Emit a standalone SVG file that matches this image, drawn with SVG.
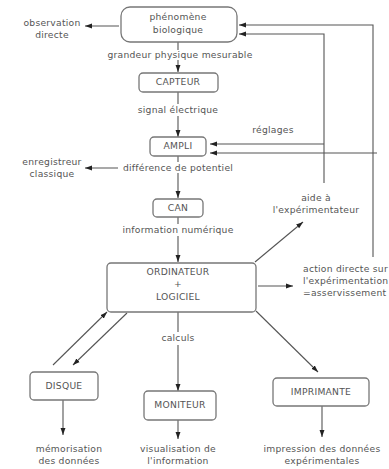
<svg xmlns="http://www.w3.org/2000/svg" width="389" height="469" viewBox="0 0 389 469">
<style>
text{font-family:"DejaVu Sans","Liberation Sans",sans-serif;font-size:9.2px;letter-spacing:0.25px;fill:#555;text-anchor:middle;dominant-baseline:middle}
.box{fill:#fff;stroke:#777;stroke-width:1.3}
.ln{stroke:#555;stroke-width:1.1;fill:none}
.ar{stroke:#555;stroke-width:1.1;fill:none;marker-end:url(#ah)}
.l{text-anchor:start}
</style>
<defs>
<marker id="ah" viewBox="0 0 10 10" refX="10" refY="5" markerWidth="7" markerHeight="7" markerUnits="userSpaceOnUse" orient="auto">
<path d="M0,1.5 L10,5 L0,8.5 Z" fill="#222"/>
</marker>
</defs>
<rect width="389" height="469" fill="#fff"/>
<g id="connectors">
<path class="ln" d="M178,42 V50"/>
<path class="ar" d="M178,60 V72"/>
<path class="ln" d="M178,92 V104"/>
<path class="ar" d="M178,116 V137"/>
<path class="ln" d="M178,156 V162"/>
<path class="ar" d="M178,173 V198"/>
<path class="ln" d="M178,217 V224"/>
<path class="ar" d="M178,236 V262"/>
<path class="ar" d="M119,26 H85"/>
<path class="ar" d="M118,168 H85"/>
<path class="ar" d="M373,257 V25 H239"/>
<path class="ar" d="M324,183 V34 H239"/>
<path class="ar" d="M324,144 H210"/>
<path class="ar" d="M377,153 H210"/>
<path class="ar" d="M255,262 L303,222"/>
<path class="ar" d="M258,286 H293"/>
<path class="ln" d="M178,312 V332"/>
<path class="ar" d="M178,345 V391"/>
<path class="ar" d="M53,365 L107,312"/>
<path class="ar" d="M127,313 L73,365"/>
<path class="ar" d="M256,311 L318,372"/>
<path class="ar" d="M63,400 V435"/>
<path class="ar" d="M178,420 V439"/>
<path class="ar" d="M322,406 V437"/>
</g>
<g id="phenomene"><rect class="box" x="121" y="7" width="116" height="35" rx="9"/><text x="178" y="17.5">phénomène</text><text x="178" y="30">biologique</text></g>
<g id="capteur"><rect class="box" x="139" y="73" width="79" height="19" rx="4"/><text x="178" y="82.5">CAPTEUR</text></g>
<g id="ampli"><rect class="box" x="150" y="137" width="56" height="19" rx="4"/><text x="178" y="146.5">AMPLI</text></g>
<g id="can"><rect class="box" x="153" y="199" width="50" height="18" rx="4"/><text x="178" y="208">CAN</text></g>
<g id="ordinateur"><rect class="box" x="107" y="263" width="149" height="49" rx="4"/><text x="178" y="272">ORDINATEUR</text><text x="178" y="284">+</text><text x="178" y="297">LOGICIEL</text></g>
<g id="disque"><rect class="box" x="30" y="372" width="68" height="28" rx="4"/><text x="64" y="386">DISQUE</text></g>
<g id="moniteur"><rect class="box" x="144" y="391" width="72" height="29" rx="4"/><text x="180" y="405">MONITEUR</text></g>
<g id="imprimante"><rect class="box" x="273" y="378" width="96" height="28" rx="4"/><text x="321" y="392">IMPRIMANTE</text></g>
<g id="labels">
<text x="52" y="23">observation</text><text x="52" y="35">directe</text>
<text x="180" y="55">grandeur physique mesurable</text>
<text x="178" y="110">signal électrique</text>
<text x="273" y="130">réglages</text>
<text x="52" y="162">enregistreur</text><text x="52" y="174">classique</text>
<text x="178" y="168">différence de potentiel</text>
<text x="178" y="230">information numérique</text>
<text x="316" y="198">aide à</text><text x="316" y="210">l'expérimentateur</text>
<text class="l" x="303" y="269">action directe sur</text><text class="l" x="303" y="281">l'expérimentation</text><text class="l" x="303" y="293">=asservissement</text>
<text x="178" y="338">calculs</text>
<text x="69" y="449">mémorisation</text><text x="69" y="461">des données</text>
<text x="178" y="449">visualisation de</text><text x="178" y="461">l'information</text>
<text x="322" y="449">impression des données</text><text x="322" y="461">expérimentales</text>
</g>
</svg>
